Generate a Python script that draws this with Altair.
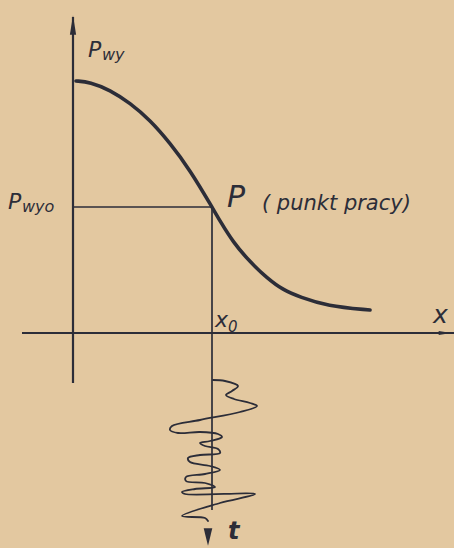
import altair as alt
import pandas as pd

# Characteristic P_wy(x): output falls from a plateau to a low tail
curve_x = [3, 17, 37, 57, 77, 97, 117, 139, 147, 160, 177, 194, 210, 227, 254, 297]
curve_y = [252, 251, 243, 230, 213, 190, 163, 126, 112, 91, 71, 55, 43, 36, 27, 23]

# Operating point
x0 = 139
p_wyo = 126

# Input signal x(t) drawn around x0, time running downward
wave_x = [140, 152, 165, 159, 153, 161, 177, 184, 167, 127, 99, 97, 105, 127,
          145, 149, 137, 127, 132, 145, 147, 127, 115, 117, 137, 147, 132, 113,
          113, 132, 142, 122, 109, 112, 182, 147, 109, 132, 135]
wave_t = [-47, -48, -53, -58, -62, -66, -70, -73, -79, -87, -93, -97, -100, -99,
          -101, -104, -108, -110, -113, -116, -120, -122, -125, -129, -133, -137,
          -141, -144, -148, -150, -154, -156, -159, -161, -161, -170, -183, -185,
          -188]

INK = "#2c2d38"
PAPER = "#e3c8a0"
FONT = "DejaVu Sans"

xs = alt.Scale(domain=[-73, 381])
ys = alt.Scale(domain=[-215, 333])

def X(f="x"):
    return alt.X(f"{f}:Q", scale=xs, axis=None)

def Y(f="y"):
    return alt.Y(f"{f}:Q", scale=ys, axis=None)

curve_df = pd.DataFrame({"x": curve_x, "y": curve_y})
curve = alt.Chart(curve_df).mark_line(
    color=INK, strokeWidth=3.6, interpolate="basis", strokeCap="round"
).encode(x=X(), y=Y())

wave_df = pd.DataFrame({"x": wave_x, "y": wave_t, "i": range(len(wave_x))})
wave = alt.Chart(wave_df).mark_line(
    color=INK, strokeWidth=1.8, interpolate="catmull-rom", strokeCap="round"
).encode(x=X(), y=Y(), order="i:Q")

# Coordinate axes
axes_df = pd.DataFrame({
    "x": [0, -51], "y": [-50, 0], "x2": [0, 381], "y2": [316, 0]
})
axes = alt.Chart(axes_df).mark_rule(color=INK, strokeWidth=2.2).encode(
    x=X(), y=Y(), x2="x2:Q", y2="y2:Q"
)

# Projection lines of the operating point
guides_df = pd.DataFrame({
    "x": [0, x0], "y": [p_wyo, p_wyo], "x2": [x0, x0], "y2": [p_wyo, -177]
})
guides = alt.Chart(guides_df).mark_rule(color=INK, strokeWidth=1.7).encode(
    x=X(), y=Y(), x2="x2:Q", y2="y2:Q"
)

# Arrow heads
up_df = pd.DataFrame({"x": [0], "y": [308]})
up = alt.Chart(up_df).mark_point(
    shape="M0,-1L0.32,1L-0.32,1Z", size=380, filled=True, color=INK, opacity=1
).encode(x=X(), y=Y())

right_df = pd.DataFrame({"x": [372], "y": [0]})
right = alt.Chart(right_df).mark_point(
    shape="M1,0L-1,0.3L-1,-0.3Z", size=160, filled=True, color=INK, opacity=1
).encode(x=X(), y=Y())

down_df = pd.DataFrame({"x": [135], "y": [-204]})
down = alt.Chart(down_df).mark_point(
    shape="M-0.5,-1L0.5,-1L0,1Z", size=300, filled=True, color=INK, opacity=1
).encode(x=X(), y=Y())

# Lettering
labels_df = pd.DataFrame({
    "text": ["P", "wy", "P", "wyo", "P", "( punkt pracy)", "x", "0", "x"],
    "x":    [15, 29, -65, -51, 154, 189, 142, 155, 360],
    "y":    [276, 273, 124, 121, 126, 123, 6, 1, 10],
    "fs":   [22, 16, 22, 16, 30, 21, 22, 15, 25],
})
labels = alt.Chart(labels_df).mark_text(
    align="left", baseline="alphabetic", font=FONT, fontStyle="italic",
    color=INK
).encode(x=X(), y=Y(), text="text:N", size=alt.Size("fs:Q", scale=None))

t_df = pd.DataFrame({"text": ["t"], "x": [155], "y": [-206]})
t_label = alt.Chart(t_df).mark_text(
    align="left", baseline="alphabetic", font=FONT, fontWeight="bold",
    fontStyle="italic", fontSize=24, color=INK
).encode(x=X(), y=Y(), text="text:N")

chart = alt.layer(
    axes, guides, curve, wave, up, right, down, labels, t_label
).properties(
    width=454, height=548, padding=0, autosize=alt.AutoSizeParams(type="none"),
    background=PAPER
).configure_view(stroke=None)

chart.save("out.html", embed_options={"renderer": "svg", "actions": False})
